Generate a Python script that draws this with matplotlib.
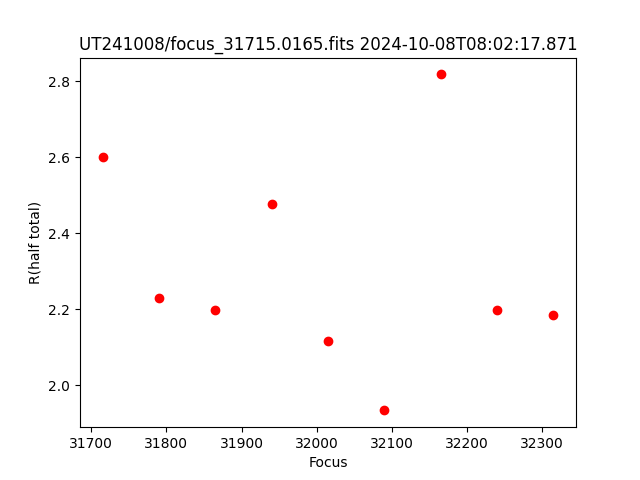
import matplotlib
matplotlib.use("Agg")
import matplotlib.pyplot as plt

focus = [31715, 31790, 31865, 31940, 32015, 32090, 32165, 32240, 32315]
r_half = [2.600, 2.229, 2.197, 2.476, 2.116, 1.934, 2.818, 2.197, 2.184]

fig, ax = plt.subplots(figsize=(6.4, 4.8), dpi=100)
ax.plot(focus, r_half, 'o', color='red')
ax.set_xlabel("Focus")
ax.set_ylabel("R(half total)")
ax.set_title("UT241008/focus_31715.0165.fits 2024-10-08T08:02:17.871")
fig.savefig("out.png")
